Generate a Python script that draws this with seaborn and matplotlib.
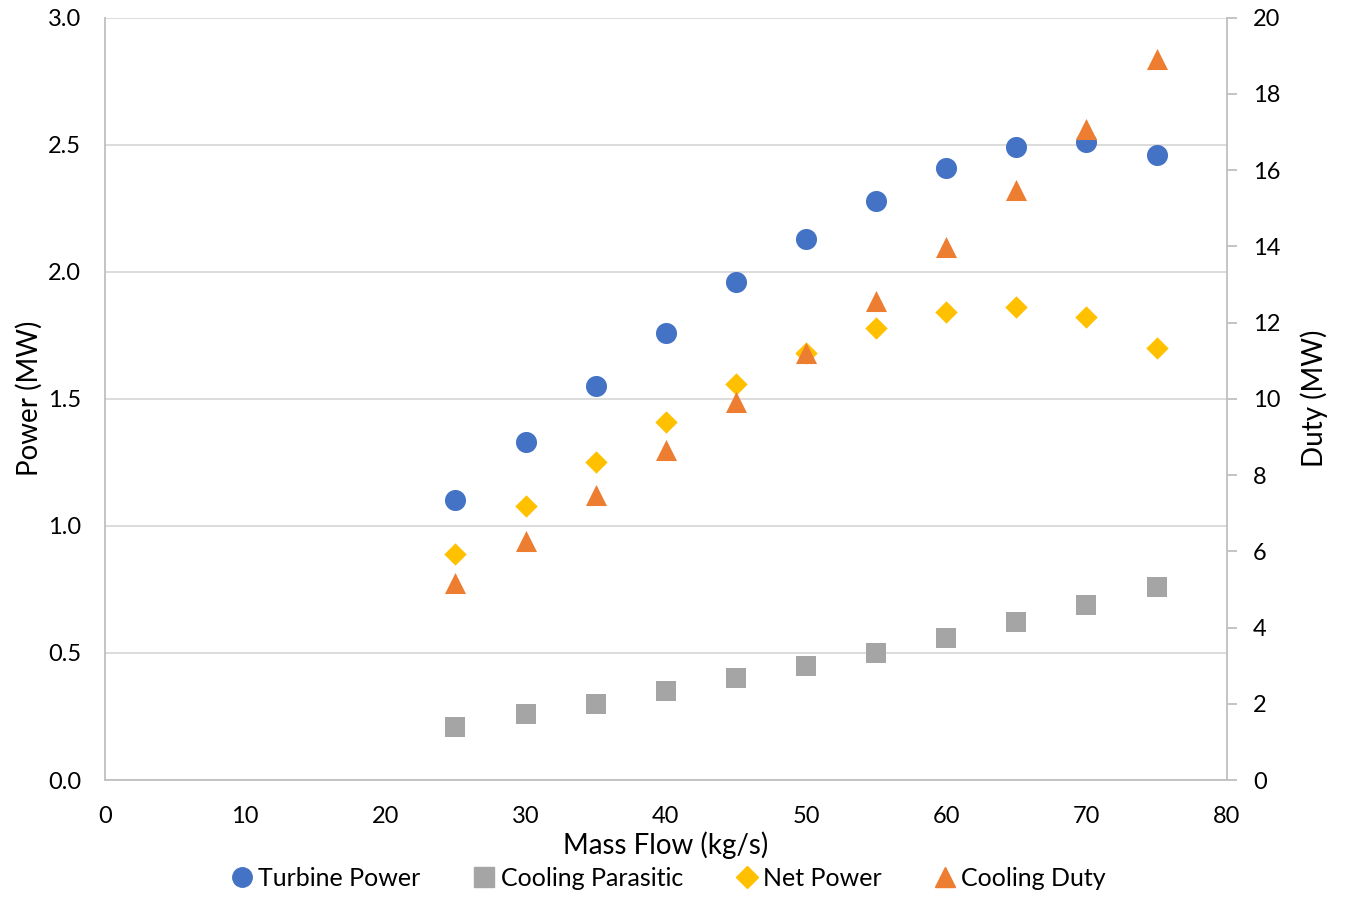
import pandas as pd
import matplotlib.pyplot as plt
import seaborn as sns
from matplotlib.lines import Line2D

# data
mass_flow = [25, 30, 35, 40, 45, 50, 55, 60, 65, 70, 75]
turbine_power = [1.10, 1.33, 1.55, 1.76, 1.96, 2.13, 2.28, 2.41, 2.49, 2.51, 2.46]
cooling_parasitic = [0.21, 0.26, 0.30, 0.35, 0.40, 0.45, 0.50, 0.56, 0.62, 0.69, 0.76]
net_power = [0.89, 1.08, 1.25, 1.41, 1.56, 1.68, 1.78, 1.84, 1.86, 1.82, 1.70]
cooling_duty = [5.17, 6.27, 7.48, 8.66, 9.92, 11.21, 12.57, 13.99, 15.49, 17.09, 18.92]

colors = {'Turbine Power': '#4472C4', 'Cooling Parasitic': '#A5A5A5',
          'Net Power': '#FFC000', 'Cooling Duty': '#ED7D31'}
markers = {'Turbine Power': 'o', 'Cooling Parasitic': 's',
           'Net Power': 'D', 'Cooling Duty': '^'}
sizes = {'Turbine Power': 230, 'Cooling Parasitic': 190,
         'Net Power': 130, 'Cooling Duty': 230}

sns.set_style('white')
plt.rcParams['font.family'] = ['Lato', 'DejaVu Sans']
plt.rcParams['text.color'] = 'black'
plt.rcParams['axes.labelcolor'] = 'black'
plt.rcParams['xtick.color'] = 'black'
plt.rcParams['ytick.color'] = 'black'

power_df = pd.DataFrame({
    'Mass Flow': mass_flow * 3,
    'Power': turbine_power + cooling_parasitic + net_power,
    'Series': ['Turbine Power'] * 11 + ['Cooling Parasitic'] * 11 + ['Net Power'] * 11,
})
duty_df = pd.DataFrame({'Mass Flow': mass_flow, 'Duty': cooling_duty})

fig = plt.figure(figsize=(13.45, 8.98), dpi=100)
ax = fig.add_axes([0.078, 0.1314, 0.834, 0.849])
ax2 = ax.twinx()

for name in ['Turbine Power', 'Cooling Parasitic', 'Net Power']:
    sub = power_df[power_df['Series'] == name]
    sns.scatterplot(data=sub, x='Mass Flow', y='Power', ax=ax, color=colors[name],
                    marker=markers[name], s=sizes[name], linewidth=0, legend=False, zorder=3)
sns.scatterplot(data=duty_df, x='Mass Flow', y='Duty', ax=ax2, color=colors['Cooling Duty'],
                marker='^', s=sizes['Cooling Duty'], linewidth=0, legend=False, zorder=3)

grid_c = '#D9D9D9'
ax.set_xlim(0, 80)
ax.set_ylim(0, 3.0)
ax.set_xticks(range(0, 81, 10))
ax.set_yticks([0, 0.5, 1.0, 1.5, 2.0, 2.5, 3.0])
ax.set_yticklabels([f'{v:.1f}' for v in [0, 0.5, 1.0, 1.5, 2.0, 2.5, 3.0]])
ax.yaxis.grid(True, color=grid_c, linewidth=1.3)
ax.set_axisbelow(True)
ax2.set_ylim(0, 20)
ax2.set_yticks(range(0, 21, 2))

for a in (ax, ax2):
    for s in a.spines.values():
        s.set_visible(False)
ax.spines['left'].set_visible(True)
ax.spines['bottom'].set_visible(True)
ax2.spines['right'].set_visible(True)
for s in [ax.spines['left'], ax.spines['bottom'], ax2.spines['right']]:
    s.set_color('#BFBFBF')
    s.set_linewidth(1.3)

ax.tick_params(axis='x', length=0, labelsize=17, pad=19)
ax.tick_params(axis='y', length=0, labelsize=17, pad=17)
ax2.tick_params(axis='y', length=7, width=1.3, color='#BFBFBF', labelsize=17, pad=12)

ax.set_xlabel('Mass Flow (kg/s)', fontsize=20, labelpad=3)
ax.set_ylabel('Power (MW)', fontsize=20, labelpad=4)
ax2.set_ylabel('Duty (MW)', fontsize=20, labelpad=14)

handles = [Line2D([], [], linestyle='none', marker=markers[n], color=colors[n],
                  markersize=14 if n != 'Net Power' else 11) for n in colors]
fig.legend(handles, list(colors.keys()), loc='lower center', ncol=4, frameon=False,
           fontsize=18, bbox_to_anchor=(0.497, -0.016), handlelength=0.9,
           handletextpad=0.2, columnspacing=2.1)

fig.savefig('out.png', dpi=100)
